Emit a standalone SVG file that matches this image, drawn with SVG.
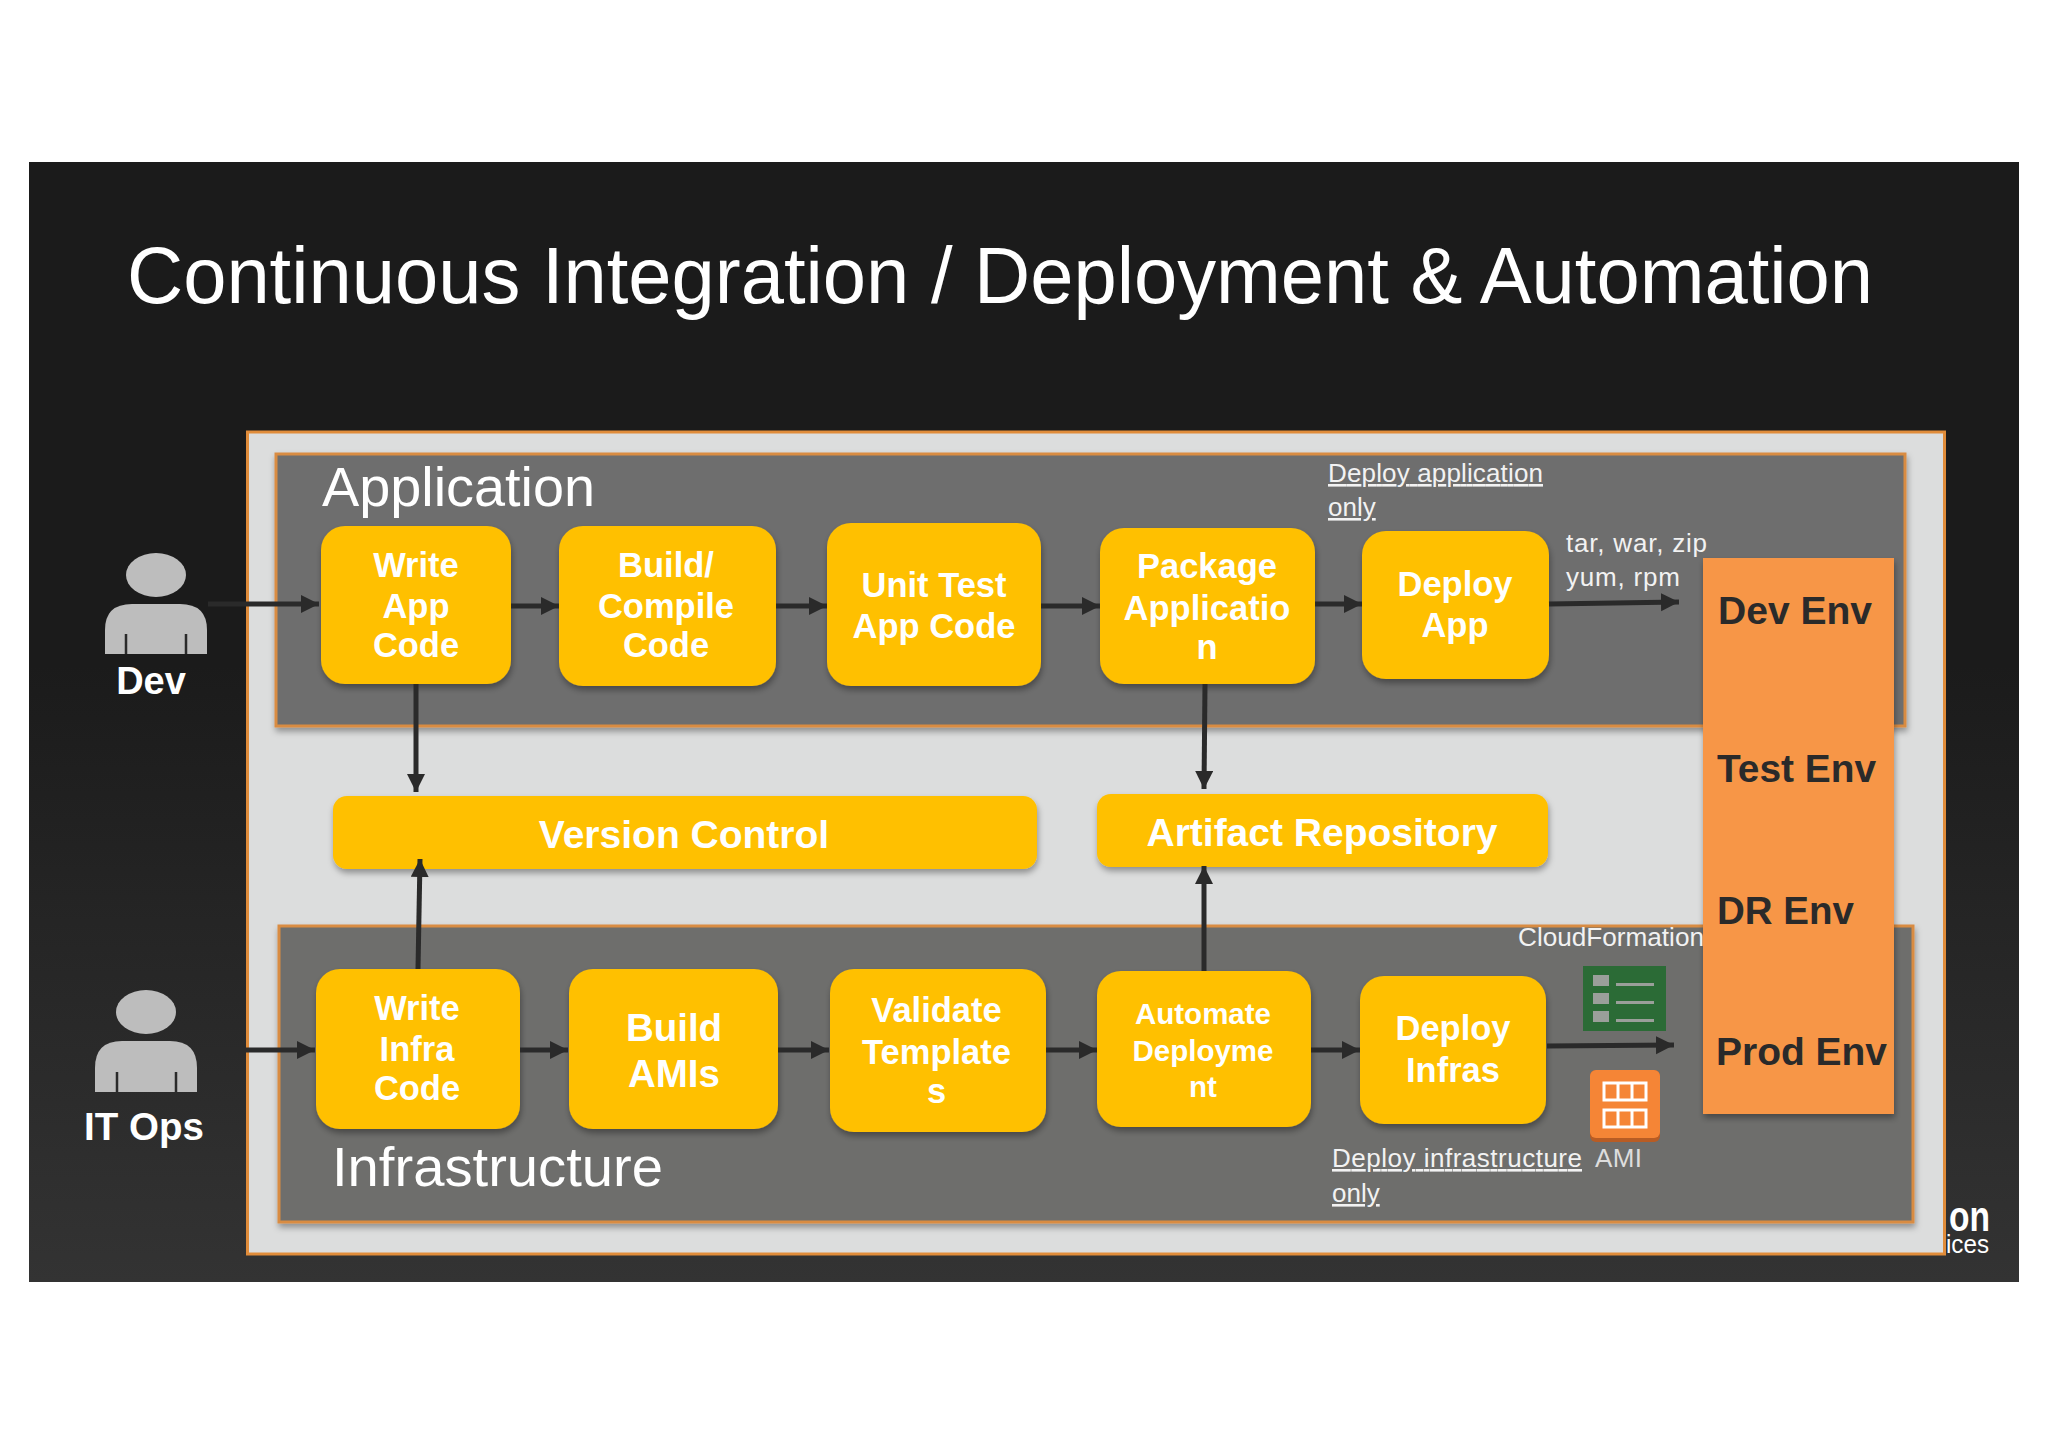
<svg xmlns="http://www.w3.org/2000/svg" width="2048" height="1447" viewBox="0 0 2048 1447">
<style>
text{font-family:"Liberation Sans",Arial,sans-serif}
.n{fill:#fff;font-weight:700;font-size:34.500px;text-anchor:middle}
.e{fill:#2a2a2a;font-weight:700;font-size:39px}
.s{fill:#f2f2f2;font-size:26px}
.u{text-decoration:underline}
.box{fill:#ffc000;filter:url(#sh)}
.c{fill:none;stroke:#2a2a2a;stroke-width:5;marker-end:url(#a)}
.p{fill:#bdbdbd}
.pl{stroke:#2a2a2a;stroke-width:2.5}
</style>
<defs>
<linearGradient id="bg" x1="0" y1="0" x2="0" y2="1"><stop offset="0.45" stop-color="#1b1b1b"/><stop offset="1" stop-color="#333"/></linearGradient>
<filter id="sh" x="-10%" y="-10%" width="120%" height="125%"><feDropShadow dx="1" dy="4" stdDeviation="3" flood-color="#000" flood-opacity="0.35"/></filter>
<marker id="a" markerUnits="userSpaceOnUse" markerWidth="20" markerHeight="20" refX="18" refY="9" orient="auto"><path d="M0 0L18 9L0 18Z" fill="#2a2a2a"/></marker>
</defs>
<rect width="2048" height="1447" fill="#fff"/>
<rect id="slide" x="29" y="162" width="1990" height="1120" fill="url(#bg)"/>
<text x="127" y="303" font-size="79" fill="#fff" textLength="1746" lengthAdjust="spacingAndGlyphs">Continuous Integration / Deployment &amp; Automation</text>
<text x="1949" y="1231" font-size="42" font-weight="700" fill="#fff" textLength="41" lengthAdjust="spacingAndGlyphs">on</text>
<text x="1946" y="1253" font-size="26" fill="#fff" textLength="43" lengthAdjust="spacingAndGlyphs">ices</text>
<rect id="outer" x="247.500" y="432" width="1697" height="822" fill="#dcdddd" stroke="#e08c3a" stroke-width="3"/>
<g id="application"><rect x="276" y="454" width="1629" height="272" fill="#6e6e6e" stroke="#d98c42" stroke-width="3" filter="url(#sh)"/><text x="322" y="506" font-size="55" fill="#fff" textLength="273" lengthAdjust="spacingAndGlyphs">Application</text></g>
<g id="infrastructure"><rect x="279" y="926" width="1634" height="296" fill="#6e6e6c" stroke="#d98c42" stroke-width="3" filter="url(#sh)"/><text x="332" y="1186" font-size="56" fill="#fff" textLength="331" lengthAdjust="spacingAndGlyphs">Infrastructure</text></g>
<g id="dev"><ellipse class="p" cx="156" cy="575" rx="30" ry="22"/><path class="p" d="M105 654V630Q105 604 132 604H180Q207 604 207 630V654Z"/><path class="pl" d="M126 634V654M186 634V654"/><text x="151" y="694" class="n" style="font-size:38px">Dev</text></g>
<g id="itops"><ellipse class="p" cx="146" cy="1012" rx="30" ry="22"/><path class="p" d="M95 1092V1068Q95 1041 122 1041H170Q197 1041 197 1068V1092Z"/><path class="pl" d="M117 1072V1092M176 1072V1092"/><text x="144" y="1140" class="n" style="font-size:38.500px">IT Ops</text></g>
<g id="write-app"><rect class="box" x="321" y="526" width="190" height="158" rx="24"/><text class="n" x="416" y="577">Write</text><text class="n" x="416" y="618">App</text><text class="n" x="416" y="657">Code</text></g>
<g id="build"><rect class="box" x="559" y="526" width="217" height="160" rx="24"/><text class="n" x="666" y="577">Build/</text><text class="n" x="666" y="618">Compile</text><text class="n" x="666" y="657">Code</text></g>
<g id="unit"><rect class="box" x="827" y="523" width="214" height="163" rx="24"/><text class="n" x="934" y="597">Unit Test</text><text class="n" x="934" y="638">App Code</text></g>
<g id="package"><rect class="box" x="1100" y="528" width="215" height="156" rx="24"/><text class="n" x="1207" y="578">Package</text><text class="n" x="1207" y="620">Applicatio</text><text class="n" x="1207" y="659">n</text></g>
<g id="deploy-app"><rect class="box" x="1362" y="531" width="187" height="148" rx="24"/><text class="n" x="1455" y="596">Deploy</text><text class="n" x="1455" y="637">App</text></g>
<g id="version-control"><rect class="box" x="333" y="796" width="704" height="73" rx="14"/><text class="n" x="684" y="848" style="font-size:39px">Version Control</text></g>
<g id="artifact"><rect class="box" x="1097" y="794" width="451" height="73" rx="14"/><text class="n" x="1322" y="846" style="font-size:39px">Artifact Repository</text></g>
<g id="write-infra"><rect class="box" x="316" y="969" width="204" height="160" rx="24"/><text class="n" x="417" y="1020">Write</text><text class="n" x="417" y="1061">Infra</text><text class="n" x="417" y="1100">Code</text></g>
<g id="build-amis"><rect class="box" x="569" y="969" width="209" height="160" rx="24"/><text class="n" x="674" y="1041" style="font-size:38.500px">Build</text><text class="n" x="674" y="1087" style="font-size:38.500px">AMIs</text></g>
<g id="validate"><rect class="box" x="830" y="969" width="216" height="163" rx="24"/><text class="n" x="936.500" y="1022">Validate</text><text class="n" x="936.500" y="1064">Template</text><text class="n" x="936.500" y="1103">s</text></g>
<g id="automate"><rect class="box" x="1097" y="971" width="214" height="156" rx="24"/><text class="n" x="1203" y="1024" style="font-size:29.500px">Automate</text><text class="n" x="1203" y="1061" style="font-size:29.500px">Deployme</text><text class="n" x="1203" y="1097" style="font-size:29.500px">nt</text></g>
<g id="deploy-infras"><rect class="box" x="1360" y="976" width="186" height="148" rx="24"/><text class="n" x="1453" y="1040">Deploy</text><text class="n" x="1453" y="1082">Infras</text></g>
<g id="envs"><rect x="1703" y="558" width="191" height="556" fill="#f79646" filter="url(#sh)"/>
<text class="e" x="1718" y="624" textLength="154" lengthAdjust="spacingAndGlyphs">Dev Env</text>
<text class="e" x="1717" y="782" textLength="159" lengthAdjust="spacingAndGlyphs">Test Env</text>
<text class="e" x="1717" y="924" textLength="137" lengthAdjust="spacingAndGlyphs">DR Env</text>
<text class="e" x="1716" y="1065" textLength="171" lengthAdjust="spacingAndGlyphs">Prod Env</text></g>
<g id="connectors">
<path class="c" d="M208 604H319"/>
<path class="c" d="M511 606H559"/>
<path class="c" d="M776 606H827"/>
<path class="c" d="M1041 606H1100"/>
<path class="c" d="M1315 604H1362"/>
<path class="c" d="M1549 604L1679 602"/>
<path class="c" d="M416 684V792"/>
<path class="c" d="M1205 684L1204 789"/>
<path class="c" d="M418 969L420 859"/>
<path class="c" d="M1204 971V866"/>
<path class="c" d="M204 1050H315"/>
<path class="c" d="M520 1050H568"/>
<path class="c" d="M778 1050H829"/>
<path class="c" d="M1046 1050H1097"/>
<path class="c" d="M1311 1050H1360"/>
<path class="c" d="M1547 1046L1674 1045"/>
</g>
<g id="labels">
<text class="s u" x="1328" y="482" textLength="215" lengthAdjust="spacing">Deploy application</text>
<text class="s u" x="1328" y="516">only</text>
<text class="s" x="1566" y="552" textLength="141" lengthAdjust="spacing">tar, war, zip</text>
<text class="s" x="1566" y="586" textLength="114" lengthAdjust="spacing">yum, rpm</text>
<text class="s" x="1518" y="946" textLength="186" lengthAdjust="spacingAndGlyphs">CloudFormation</text>
<text class="s u" x="1332" y="1167" textLength="250" lengthAdjust="spacing">Deploy infrastructure</text>
<text class="s u" x="1332" y="1202">only</text>
<text class="s" x="1595" y="1167" style="fill:#ddd" textLength="47" lengthAdjust="spacing">AMI</text>
</g>
<g id="cf-icon"><rect x="1583" y="966" width="83" height="65" fill="#2b6b36"/>
<g fill="#9a9f9a"><rect x="1593" y="975" width="16" height="11"/><rect x="1593" y="993" width="16" height="11"/><rect x="1593" y="1011" width="16" height="11"/><rect x="1616" y="983" width="38" height="3"/><rect x="1616" y="1001" width="38" height="3"/><rect x="1616" y="1019" width="38" height="3"/></g></g>
<g id="ami-icon"><rect x="1590" y="1070" width="70" height="72" rx="6" fill="#b85c24"/><rect x="1590" y="1070" width="70" height="68" rx="6" fill="#f58536"/>
<g fill="none" stroke="#fff" stroke-width="3"><rect x="1604" y="1083" width="42" height="17"/><path d="M1618 1083V1100M1632 1083V1100"/><rect x="1604" y="1110" width="42" height="17"/><path d="M1618 1110V1127M1632 1110V1127"/></g></g>
</svg>
